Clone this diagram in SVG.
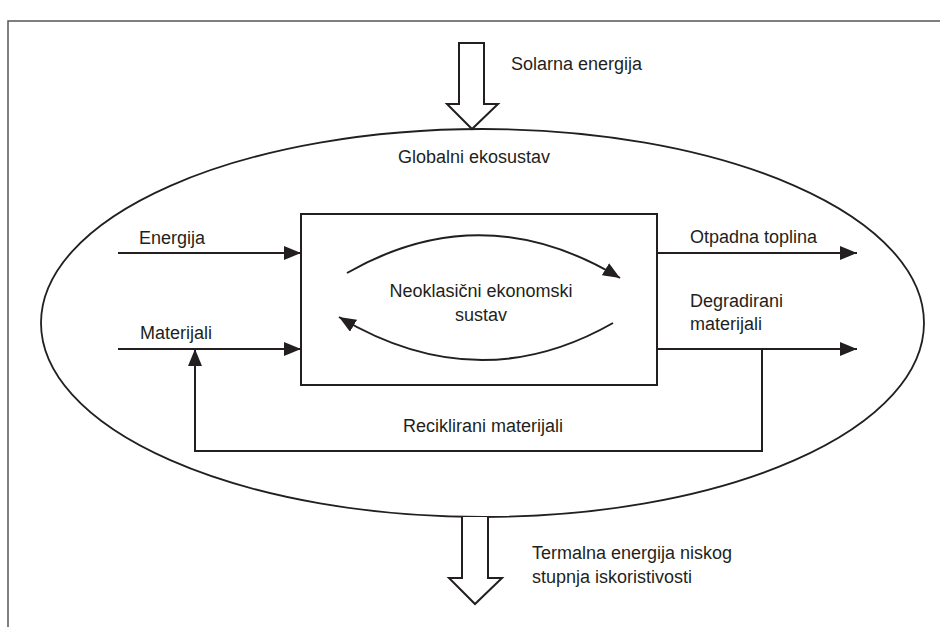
<svg xmlns="http://www.w3.org/2000/svg" width="940" height="627" viewBox="0 0 940 627">
<defs>
<style>
.t{font-family:"Liberation Sans",Arial,sans-serif;font-size:18px;fill:#231f20}
.c{text-anchor:middle}
.ln{fill:none;stroke:#231f20;stroke-width:2}
.big{fill:#fff;stroke:#231f20;stroke-width:2;stroke-linejoin:miter}
</style>
<marker id="ah" viewBox="0 0 17 14" refX="17" refY="7" markerWidth="17" markerHeight="14" markerUnits="userSpaceOnUse" orient="auto">
<path d="M0,0 L17,7 L0,14 Z" fill="#231f20"/>
</marker>
</defs>
<rect width="940" height="627" fill="#fff"/>
<g id="frame">
<polyline points="8,627 8,21 940,21" fill="none" stroke="#555" stroke-width="1.5"/>
</g>
<g id="ecosystem">
<ellipse cx="482.5" cy="323" rx="441.5" ry="194" fill="none" stroke="#231f20" stroke-width="1.8"/>
<text class="t c" x="474" y="163">Globalni ekosustav</text>
</g>
<g id="solar">
<polygon class="big" points="459,43 484,43 484,104 498,104 472,129 447,104 459,104"/>
<text class="t" x="511" y="70">Solarna energija</text>
</g>
<g id="thermal">
<polyline class="big" points="462,517 462,578 449,578 475,604 502,578 488,578 488,517"/>
<text class="t" x="532" y="559">Termalna energija niskog</text>
<text class="t" x="532" y="583">stupnja iskoristivosti</text>
</g>
<g id="economy">
<rect x="301" y="214" width="356" height="171" fill="#fff" stroke="#231f20" stroke-width="2"/>
<text class="t c" x="481" y="297">Neoklasični ekonomski</text>
<text class="t c" x="481" y="321">sustav</text>
</g>
<g id="connectors">
<path class="ln" d="M347,273 Q483,195 620,278" marker-end="url(#ah)"/>
<path class="ln" d="M613,323 Q478,400 339,317" marker-end="url(#ah)"/>
<line class="ln" x1="118" y1="253" x2="301" y2="253" marker-end="url(#ah)"/>
<line class="ln" x1="118" y1="349" x2="301" y2="349" marker-end="url(#ah)"/>
<line class="ln" x1="657" y1="253" x2="857" y2="253" marker-end="url(#ah)"/>
<line class="ln" x1="657" y1="349" x2="857" y2="349" marker-end="url(#ah)"/>
<polyline class="ln" points="762,349 762,451 195,451 195,349" marker-end="url(#ah)"/>
</g>
<g id="labels">
<text class="t" x="139" y="244">Energija</text>
<text class="t" x="140" y="339">Materijali</text>
<text class="t" x="690" y="243">Otpadna toplina</text>
<text class="t" x="690" y="307">Degradirani</text>
<text class="t" x="690" y="330">materijali</text>
<text class="t c" x="483" y="432">Reciklirani materijali</text>
</g>
</svg>
